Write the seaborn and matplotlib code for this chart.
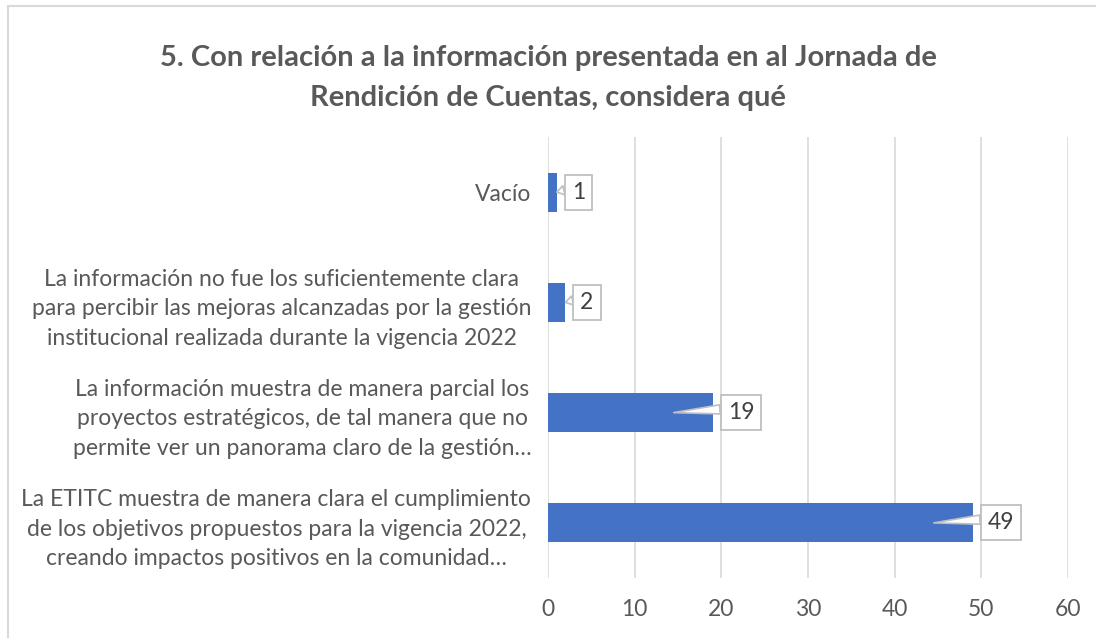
import matplotlib
matplotlib.use("Agg")
import matplotlib.pyplot as plt
import seaborn as sns
import pandas as pd
from matplotlib.transforms import ScaledTranslation
from matplotlib.patches import Rectangle

# ---- data ----
categories = [
    "Vacío",
    "La información no fue los suficientemente clara\npara percibir las mejoras alcanzadas por la gestión\ninstitucional realizada durante la vigencia 2022",
    "La información muestra de manera parcial los\nproyectos estratégicos, de tal manera que no\npermite ver un panorama claro de la gestión…",
    "La ETITC muestra de manera clara el cumplimiento\nde los objetivos propuestos para la vigencia 2022,\ncreando impactos positivos en la comunidad…",
]
values = [1, 2, 19, 49]
x_ticks = [0, 10, 20, 30, 40, 50, 60]
title = "5. Con relación a la información presentada en al Jornada de\nRendición de Cuentas, considera qué"

# ---- style ----
sns.set_theme(style="white")
plt.rcParams["font.family"] = ["Lato", "DejaVu Sans"]
TXT = "#595959"
BAR = "#4472C4"
GRID = "#d9d9d9"
FS = 16.5

W, H = 1096, 638
fig = plt.figure(figsize=(W / 100, H / 100), dpi=100)
fig.patch.set_facecolor("white")

ax = fig.add_axes([548 / W, 1 - 578 / H, 520 / W, 441 / H])
df = pd.DataFrame({"cat": categories, "val": values})
sns.barplot(data=df, x="val", y="cat", orient="h", color=BAR, saturation=1,
            width=0.355, linewidth=0, ax=ax)

ax.set_xlim(0, 60)
ax.set_ylim(3.5, -0.5)
ax.set_xticks(x_ticks)
ax.set_xticklabels([str(t) for t in x_ticks])
ax.set_xlabel("")
ax.set_ylabel("")
ax.set_axisbelow(True)
ax.grid(axis="x", color=GRID, lw=1.2)
ax.grid(axis="y", visible=False)
for s in ax.spines.values():
    s.set_visible(False)
ax.tick_params(axis="x", length=0, pad=15, labelsize=FS, labelcolor=TXT)
ax.tick_params(axis="y", length=0, pad=12, labelsize=FS, labelcolor=TXT)
for lab in ax.get_yticklabels():
    lab.set_multialignment("center")
    lab.set_linespacing(1.5)

# ---- callout data labels ----
offset = ScaledTranslation(15 / 100, 0, fig.dpi_scale_trans)
for i, v in enumerate(values):
    tip = v - 4.5 if v > 5 else v
    ax.annotate(
        str(v), xy=(tip, i), xycoords="data",
        xytext=(v, i), textcoords=ax.transData + offset,
        ha="left", va="center", fontsize=FS, color="#404040",
        bbox=dict(boxstyle="square,pad=0.31", fc="white", ec="#bfbfbf", lw=1.3),
        arrowprops=dict(arrowstyle="wedge,tail_width=0.4", fc="white",
                        ec="#bfbfbf", lw=1.2, relpos=(0, 0.68),
                        shrinkA=0, shrinkB=0),
        zorder=5,
    )

# ---- title ----
fig.text(0.5, 1 - 78 / H, title, ha="center", va="center", fontsize=21,
         fontweight="bold", color=TXT, linespacing=1.68)

# ---- chart border ----
fig.patches.append(Rectangle((8 / W, -0.1), 1.2, 1.1 - 6 / H,
                             transform=fig.transFigure, fill=False,
                             ec=GRID, lw=1.5))

fig.savefig("out.png", dpi=100)
